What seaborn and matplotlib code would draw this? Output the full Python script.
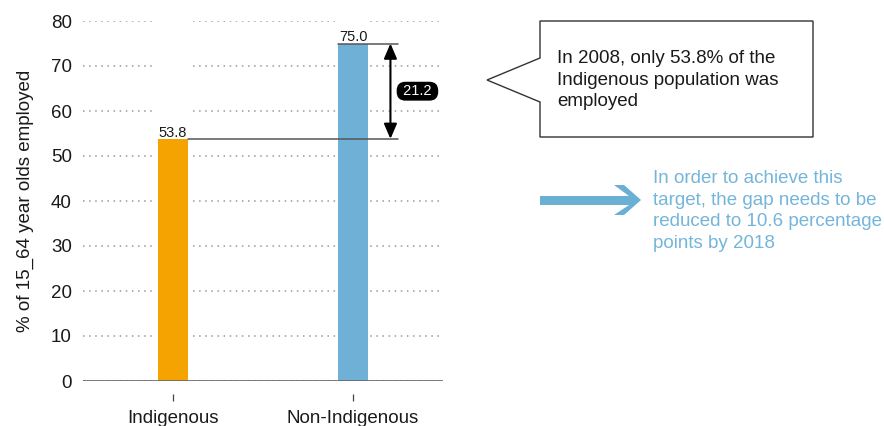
import matplotlib
matplotlib.use("Agg")
import matplotlib.pyplot as plt
import seaborn as sns
import pandas as pd
from matplotlib.patches import Polygon

# ---- data ----
categories = ["Indigenous", "Non-Indigenous"]
values = [53.8, 75.0]
bar_colors = ["#F5A300", "#6FB1D6"]
value_labels = ["53.8", "75.0"]
gap_label = "21.2"
y_ticks = [0, 10, 20, 30, 40, 50, 60, 70, 80]
y_label = "% of 15_64 year olds employed"
callout_text = "In 2008, only 53.8% of the\nIndigenous population was\nemployed"
target_text = ("In order to achieve this\ntarget, the gap needs to be\n"
               "reduced to 10.6 percentage\npoints by 2018")

sns.set_theme(style="white")
plt.rcParams["font.family"] = ["Liberation Sans", "DejaVu Sans"]

W, H = 884, 426
fig = plt.figure(figsize=(W / 100, H / 100), dpi=100)
ax = fig.add_axes([83 / W, 1 - 381 / H, 360 / W, 360 / H])

def px(x, y):
    return (x / W, 1 - y / H)

df = pd.DataFrame({"cat": categories, "val": values})
bw = 0.17
sns.barplot(data=df, x="cat", y="val", hue="cat", palette=bar_colors,
            width=bw, dodge=False, legend=False, ax=ax, saturation=1)
for p in ax.patches:
    p.set_zorder(2)
    p.set_linewidth(0)

ax.set_xlim(-0.5, 1.5)
ax.set_ylim(0, 80)
ax.set_yticks(y_ticks)
ax.set_axisbelow(True)
ax.yaxis.grid(True, linestyle=(0, (1, 3)), color="#999999", lw=1.1)
ax.xaxis.grid(False)

# white gaps in the grid around the bars
for i in range(len(categories)):
    ax.axvspan(i - bw / 2 - 0.012, i + bw / 2 + 0.012, color="white", zorder=0.8, lw=0)

for s in ["left", "right", "top"]:
    ax.spines[s].set_visible(False)
ax.spines["bottom"].set_position(("outward", 9))
ax.spines["bottom"].set_visible(False)
ax.axhline(0, color="#666666", lw=1.2, zorder=3)

ax.tick_params(axis="y", length=0, pad=8, labelsize=13.5, labelcolor="#1a1a1a")
ax.tick_params(axis="x", length=5, width=0.9, color="#444444", direction="out",
               pad=7, labelsize=13.5, labelcolor="#1a1a1a", bottom=True)
ax.set_xlabel("")
ax.set_ylabel(y_label, fontsize=13.5, color="#1a1a1a")
ax.yaxis.set_label_coords(-0.137, 0.5)

# value labels
for i, (v, lab) in enumerate(zip(values, value_labels)):
    ax.annotate(lab, (i, v), xytext=(0, 1.5), textcoords="offset points",
                ha="center", va="baseline", fontsize=10.5,
                color="#1a1a1a", zorder=4)

# gap bracket
xr = 1.25
ax.plot([0 + bw / 2, xr], [values[0], values[0]], color="#555555", lw=1.1, zorder=4)
ax.plot([1 - bw / 2, xr], [values[1], values[1]], color="#555555", lw=1.1, zorder=4)
ax.annotate("", xy=(1.208, values[0]), xytext=(1.208, values[1]),
            arrowprops=dict(arrowstyle="<|-|>,head_length=0.65,head_width=0.28",
                            color="black", lw=1.5, shrinkA=0, shrinkB=0,
                            mutation_scale=14), zorder=5)
ax.text(1.358, (values[0] + values[1]) / 2, " " + gap_label + " ", ha="center", va="center",
        fontsize=10.5, color="white", zorder=6,
        bbox=dict(boxstyle="round,pad=0.12,rounding_size=0.55", fc="black", ec="black"))

# callout box
pts = [px(540, 21), px(813, 21), px(813, 137), px(540, 137), px(540, 102),
       px(487, 80), px(540, 58)]
fig.patches.append(Polygon(pts, closed=True, transform=fig.transFigure,
                           fc="white", ec="#333333", lw=1.0))
fig.text(*px(557, 50), callout_text, ha="left", va="top", fontsize=13.5,
         color="#1a1a1a", linespacing=1.36)

# blue arrow
arrow_pts = [px(540, 196), px(629, 196), px(614, 185), px(624, 185), px(641, 200),
             px(624, 215), px(614, 215), px(629, 205), px(540, 205)]
fig.patches.append(Polygon(arrow_pts, closed=True, transform=fig.transFigure,
                           fc="#6AAFD4", ec="none"))
fig.text(*px(653, 170), target_text, ha="left", va="top", fontsize=13.5,
         color="#74B5DB", linespacing=1.36)

fig.savefig("out.png", dpi=100)
